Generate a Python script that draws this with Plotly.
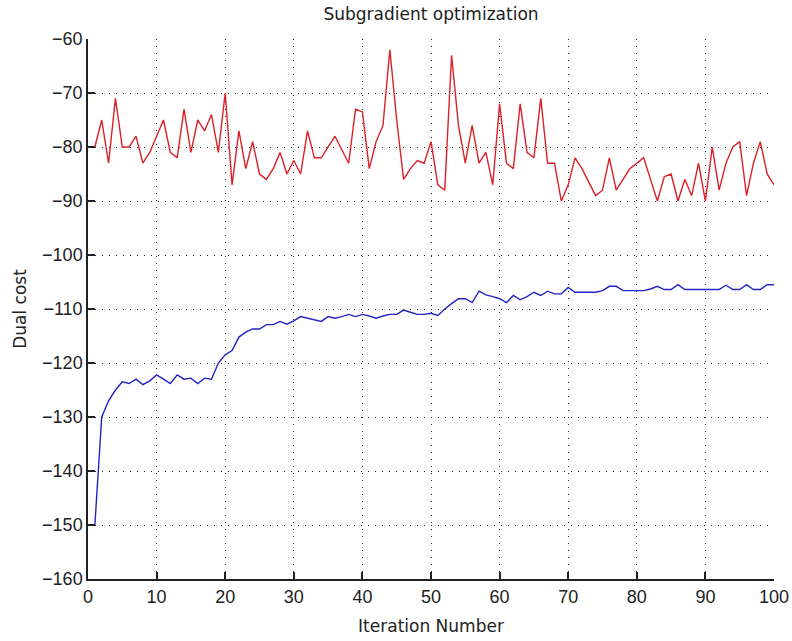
import plotly.graph_objects as go

iterations = list(range(1, 101))

primal_cost = [
    -80, -75, -83, -71, -80, -80, -78, -83, -81, -78,
    -75, -81, -82, -73, -81, -75, -77, -74, -81, -70,
    -87, -77, -84, -79, -85, -86, -84, -81, -85, -82.5,
    -85, -77, -82, -82, -80, -78, -80.5, -83, -73, -73.5,
    -84, -79, -76, -62, -75, -86, -84, -82.5, -83, -79,
    -87, -88, -63, -76, -83, -76, -83, -81, -87, -72,
    -83, -84, -72, -81, -82, -71, -83, -83, -90, -87,
    -82, -84, -86.5, -89, -88, -82, -88, -86, -84, -83,
    -82, -86, -90, -85.5, -85, -90, -86, -89, -83, -90,
    -80, -88, -83, -80, -79, -89, -83, -79, -85, -87,
]

dual_cost = [
    -150, -130, -127, -125, -123.5, -123.8, -123, -124, -123.3, -122.2,
    -123, -123.8, -122.2, -123, -122.8, -123.8, -122.8, -123, -120, -118.5,
    -117.7, -115.2, -114.3, -113.7, -113.7, -112.9, -112.9, -112.3, -112.8, -112.2,
    -111.4, -111.7, -111.9, -112.3, -111.4, -111.7, -111.4, -111, -111.4, -111,
    -111.3, -111.7, -111.3, -111, -111, -110.2, -110.6, -111, -111, -110.8,
    -111.2, -110, -109, -108.1, -108.1, -108.8, -106.7, -107.4, -107.7, -108.1,
    -108.8, -107.5, -108.3, -107.7, -106.9, -107.5, -106.7, -107.2, -107.2, -106,
    -106.9, -106.9, -106.9, -106.9, -106.6, -105.8, -105.8, -106.6, -106.6, -106.6,
    -106.6, -106.3, -105.8, -106.4, -106.4, -105.5, -106.4, -106.4, -106.4, -106.4,
    -106.4, -106.4, -105.6, -106.4, -106.4, -105.5, -106.4, -106.4, -105.5, -105.5,
]

x_ticks = list(range(0, 101, 10))
y_ticks = list(range(-160, -59, 10))

TICK_FONT = "Liberation Sans, Arial, sans-serif"
TEXT_FONT = "DejaVu Sans, Liberation Sans, sans-serif"
INK = "#222222"

fig = go.Figure()
fig.add_trace(go.Scatter(x=iterations, y=primal_cost, mode="lines",
                         line=dict(color="#dc2028", width=1.4), showlegend=False))
fig.add_trace(go.Scatter(x=iterations, y=dual_cost, mode="lines",
                         line=dict(color="#2424c4", width=1.4), showlegend=False))

axis_common = dict(
    showgrid=True, gridcolor=INK, gridwidth=1, griddash="1px,6px",
    zeroline=False, showline=True, linecolor=INK, linewidth=1.5,
    ticks="inside", ticklen=7, tickcolor=INK, tickwidth=1.5,
    tickfont=dict(family=TICK_FONT, size=18, color=INK),
    mirror=False, automargin=False,
)

W, H = 792, 641

fig.update_layout(
    width=W, height=H,
    paper_bgcolor="white", plot_bgcolor="white",
    margin=dict(l=88, r=18, t=39, b=62),
    title=dict(text="Subgradient optimization", x=431 / W, xanchor="center",
               y=1 - 14 / H, yanchor="middle",
               font=dict(family=TEXT_FONT, size=17, color=INK)),
    xaxis=dict(range=[0, 100], tickvals=x_ticks,
               ticklabelstandoff=1,
               title=dict(text="Iteration Number", standoff=14,
                          font=dict(family=TEXT_FONT, size=17, color=INK)),
               **axis_common),
    yaxis=dict(range=[-160, -60], tickvals=y_ticks,
               title=dict(text="Dual cost", standoff=11,
                          font=dict(family=TEXT_FONT, size=17, color=INK)),
               **axis_common),
)

fig.write_html("out.html", config={"displayModeBar": False},
               post_script="document.body.style.margin='0';")
